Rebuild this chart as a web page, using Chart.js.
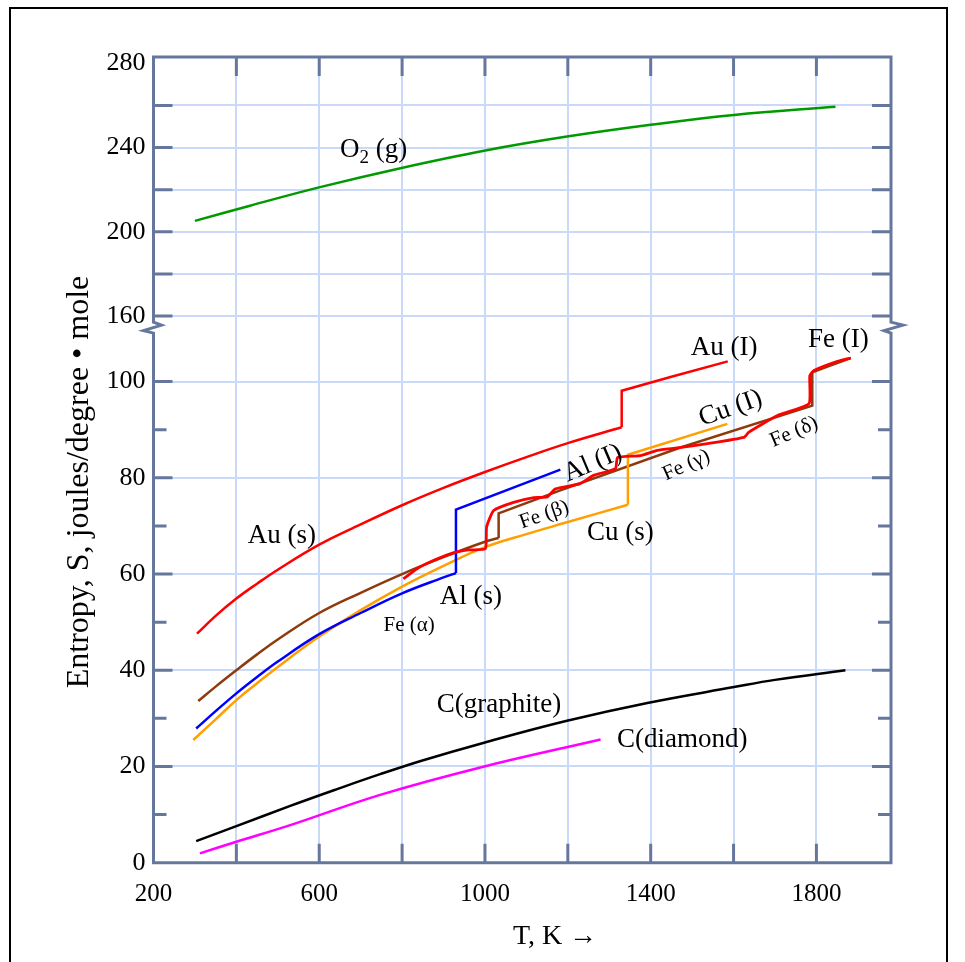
<!DOCTYPE html>
<html>
<head>
<meta charset="utf-8">
<script src="https://cdn.jsdelivr.net/npm/chart.js@4.4.0/dist/chart.umd.min.js"></script>
<style>
  html, body { margin: 0; padding: 0; background: #fff; overflow: hidden; }
  #wrap { position: relative; width: 965px; height: 962px; }
</style>
</head>
<body>
<div id="wrap"><canvas id="myChart"></canvas></div>
<script>
// T in K, S in joules/degree . mole
const o2T = [300, 433, 602, 796, 1001, 1198, 1400, 1601, 1846];
const o2S = [205.2, 212.4, 221.2, 230.2, 238.6, 245.2, 250.8, 255.5, 259.4];

// solid phases
const auSolidT = [305, 350, 400, 450, 500, 600, 700, 800, 900, 1000, 1100, 1200, 1330];
const auSolidS = [47.6, 51.3, 54.9, 58.0, 60.9, 66.1, 70.3, 74.3, 77.9, 81.2, 84.3, 87.2, 90.5];
const alSolidT = [303, 350, 400, 450, 500, 600, 700, 800, 900, 930];
const alSolidS = [27.9, 31.5, 35.2, 38.6, 41.8, 47.5, 51.9, 56.0, 59.3, 60.2];
const cuSolidT = [296, 350, 400, 450, 500, 600, 700, 800, 900, 1000, 1100, 1200, 1345];
const cuSolidS = [25.5, 29.8, 33.8, 37.3, 40.7, 47.0, 52.5, 57.4, 61.7, 65.6, 68.3, 70.8, 74.4];
const feSolidT = [308, 350, 400, 450, 500, 600, 700, 800, 900, 1000, 1033];
const feSolidS = [33.6, 36.6, 40.0, 43.3, 46.4, 51.9, 56.1, 60.0, 63.5, 66.7, 67.5];

// jumps at the transitions and the phase above them
const auMeltT = [1330, 1330, 1450, 1586];
const auMeltS = [90.5, 98.1, 101.0, 104.2];
const alMeltT = [930, 930, 1182];
const alMeltS = [60.2, 73.4, 81.7];
const cuMeltT = [1345, 1345, 1585];
const cuMeltS = [74.4, 84.8, 91.2];
const feHighT = [1033, 1033, 1182, 1472, 1790, 1790, 1830, 1883];
const feHighS = [67.5, 72.6, 77.4, 86.3, 95.0, 101.9, 103.2, 104.9];

// the wavy red iron trace
const feRedT = [803, 836, 870, 916, 960, 1001, 1004, 1021, 1069, 1118, 1150, 1170, 1230, 1262, 1315, 1320, 1375, 1416, 1464, 1537, 1625, 1637, 1705, 1782, 1784, 1794, 1851, 1883];
const feRedS = [59.0, 61.1, 62.6, 64.2, 65.0, 65.3, 69.8, 73.2, 74.9, 75.9, 76.0, 77.7, 78.8, 80.5, 81.9, 84.2, 84.6, 85.7, 86.2, 87.1, 88.4, 89.5, 92.9, 95.4, 101.2, 102.3, 104.2, 104.9];

const graphiteT = [303, 400, 530, 640, 747, 851, 1000, 1198, 1392, 1601, 1700, 1870];
const graphiteS = [4.5, 7.6, 11.8, 15.2, 18.4, 21.3, 25.0, 29.5, 33.2, 36.5, 38.0, 40.0];

const diamondT = [312, 400, 530, 747, 989, 1279];
const diamondS = [1.95, 4.35, 7.8, 14.1, 19.8, 25.6];

const xTickLabels = [200, 600, 1000, 1400, 1800];
const yLowTickLabels = [0, 20, 40, 60, 80, 100];
const yHighTickLabels = [160, 200, 240, 280];

const frameColor = '#66779e';
const gridColor = '#c9d9f7';
const serif = '"Liberation Serif", "Times New Roman", serif';

// text placed next to the curves (data coordinates)
const curveLabels = [
  { text: 'Au (s)', T: 510, S: 68.0, size: 27, angle: 0 },
  { text: 'Au (I)', T: 1577, S: 106.9, size: 27, angle: 0 },
  { text: 'Fe (I)', T: 1853, S: 108.7, size: 27, angle: 0 },
  { text: 'Cu (I)', T: 1593, S: 94.4, size: 27, angle: -19.5 },
  { text: 'Al (I)', T: 1260, S: 83.0, size: 27, angle: -23 },
  { text: 'Fe (β)', T: 1143, S: 72.3, size: 21, angle: -19.5 },
  { text: 'Fe (γ)', T: 1486, S: 82.6, size: 21, angle: -24 },
  { text: 'Fe (δ)', T: 1746, S: 89.5, size: 21, angle: -23 },
  { text: 'Fe (α)', T: 817, S: 49.3, size: 21, angle: 0 },
  { text: 'Al (s)', T: 966, S: 55.2, size: 27, angle: 0 },
  { text: 'Cu (s)', T: 1327, S: 68.5, size: 27, angle: 0 },
  { text: 'C(graphite)', T: 1034, S: 32.7, size: 27, angle: 0 },
  { text: 'C(diamond)', T: 1476, S: 25.5, size: 27, angle: 0 }
];

function pts(T, S) {
  return T.map((t, i) => ({ x: t, y: S[i] }));
}

function line(label, T, S, color, axis, tension, width) {
  return {
    label: label,
    data: pts(T, S),
    borderColor: color,
    borderWidth: width || 2.5,
    pointRadius: 0,
    tension: tension,
    fill: false,
    yAxisID: axis
  };
}

const framePlugin = {
  id: 'framePlugin',
  beforeDraw(chart) {
    const ctx = chart.ctx;
    ctx.save();
    ctx.fillStyle = '#ffffff';
    ctx.fillRect(0, 0, chart.width, chart.height);
    ctx.strokeStyle = '#000000';
    ctx.lineWidth = 2;
    ctx.beginPath();
    ctx.moveTo(10, chart.height);
    ctx.lineTo(10, 8);
    ctx.lineTo(947, 8);
    ctx.lineTo(947, chart.height);
    ctx.stroke();
    ctx.restore();
  },
  afterDatasetsDraw(chart) {
    const { ctx, chartArea: a, scales } = chart;
    const xs = scales.x, lo = scales.yLow, hi = scales.yHigh;
    const brk = lo.top;

    ctx.save();
    ctx.strokeStyle = frameColor;
    ctx.lineWidth = 3;

    // ticks pointing into the plot
    ctx.beginPath();
    xs.ticks.forEach(t => {
      if (t.value <= xs.min || t.value % 200 !== 0) return;
      const px = xs.getPixelForValue(t.value);
      ctx.moveTo(px, a.top); ctx.lineTo(px, a.top + 19);
      ctx.moveTo(px, a.bottom); ctx.lineTo(px, a.bottom - 19);
    });
    lo.ticks.forEach(t => {
      if (t.value <= 0 || t.value > 100) return;
      const len = t.value % 20 === 0 ? 19 : 13;
      const py = lo.getPixelForValue(t.value);
      ctx.moveTo(a.left, py); ctx.lineTo(a.left + len, py);
      ctx.moveTo(a.right, py); ctx.lineTo(a.right - len, py);
    });
    hi.ticks.forEach(t => {
      if (t.value >= 280) return;
      const py = hi.getPixelForValue(t.value);
      ctx.moveTo(a.left, py); ctx.lineTo(a.left + 19, py);
      ctx.moveTo(a.right, py); ctx.lineTo(a.right - 19, py);
    });
    ctx.stroke();

    // frame with the axis break marks
    ctx.beginPath();
    ctx.moveTo(a.left, brk - 6.5);
    ctx.lineTo(a.left, a.top);
    ctx.lineTo(a.right, a.top);
    ctx.lineTo(a.right, brk - 6.5);
    ctx.lineTo(a.right + 12, brk - 3.5);
    ctx.lineTo(a.right - 7, brk + 2);
    ctx.lineTo(a.right, brk + 4.5);
    ctx.lineTo(a.right, a.bottom);
    ctx.lineTo(a.left, a.bottom);
    ctx.lineTo(a.left, brk + 4.5);
    ctx.lineTo(a.left - 10, brk + 2);
    ctx.lineTo(a.left + 8, brk - 3.5);
    ctx.closePath();
    ctx.stroke();

    // curve labels
    ctx.fillStyle = '#000000';
    ctx.textAlign = 'center';
    ctx.textBaseline = 'middle';
    curveLabels.forEach(l => {
      ctx.save();
      ctx.font = l.size + 'px ' + serif;
      ctx.translate(xs.getPixelForValue(l.T), lo.getPixelForValue(l.S));
      ctx.rotate(l.angle * Math.PI / 180);
      ctx.fillText(l.text, 0, 0);
      ctx.restore();
    });

    // O2 (g) with subscript
    const ox = xs.getPixelForValue(650);
    const oy = hi.getPixelForValue(238.9);
    ctx.textAlign = 'left';
    ctx.font = '27px ' + serif;
    ctx.fillText('O', ox, oy);
    let w = ctx.measureText('O').width;
    ctx.font = '19px ' + serif;
    ctx.fillText('2', ox + w, oy + 8);
    w += ctx.measureText('2').width;
    ctx.font = '27px ' + serif;
    ctx.fillText(' (g)', ox + w, oy);

    // axis titles
    ctx.textAlign = 'center';
    ctx.font = '28px ' + serif;
    ctx.fillText('T, K \u2192', 555, 937);
    ctx.save();
    ctx.translate(80, 482);
    ctx.rotate(-Math.PI / 2);
    ctx.font = '32px ' + serif;
    ctx.fillText('Entropy, S, joules/degree \u2022 mole', 0, 0);
    ctx.restore();

    ctx.restore();
  }
};

const tickFont = { family: serif, size: 26 };

new Chart(document.getElementById('myChart').getContext('2d'), {
  type: 'line',
  data: {
    datasets: [
      line('O2 (g)', o2T, o2S, '#009a00', 'yHigh', 0.4),
      line('Fe', feRedT, feRedS, '#ff0000', 'yLow', 0.15, 2.8),
      line('Au (s)', auSolidT, auSolidS, '#ff0000', 'yLow', 0.4),
      line('Au (I)', auMeltT, auMeltS, '#ff0000', 'yLow', 0),
      line('Al (s)', alSolidT, alSolidS, '#0000ff', 'yLow', 0.4),
      line('Al (I)', alMeltT, alMeltS, '#0000ff', 'yLow', 0),
      line('Cu (s)', cuSolidT, cuSolidS, '#ff9f00', 'yLow', 0.4),
      line('Cu (I)', cuMeltT, cuMeltS, '#ff9f00', 'yLow', 0),
      line('Fe (α)', feSolidT, feSolidS, '#8f3a0c', 'yLow', 0.4),
      line('Fe (β-δ, I)', feHighT, feHighS, '#8f3a0c', 'yLow', 0),
      line('C(graphite)', graphiteT, graphiteS, '#000000', 'yLow', 0.4),
      line('C(diamond)', diamondT, diamondS, '#ff00ff', 'yLow', 0.4)
    ]
  },
  options: {
    responsive: true,
    maintainAspectRatio: false,
    animation: false,
    layout: { padding: { left: 0, top: 57, right: 74, bottom: 49.3 } },
    plugins: { legend: { display: false }, tooltip: { enabled: false } },
    scales: {
      x: {
        type: 'linear',
        min: 200,
        max: 1980,
        border: { display: false },
        grid: {
          drawTicks: false,
          lineWidth: 2,
          color: c => (c.tick && c.tick.value > 200 && c.tick.value % 200 === 0 ? gridColor : 'rgba(0,0,0,0)')
        },
        ticks: {
          stepSize: 100,
          maxTicksLimit: 100,
          autoSkip: false,
          maxRotation: 0,
          includeBounds: false,
          padding: 17,
          color: '#000',
          font: { family: serif, size: 25 },
          callback: v => (xTickLabels.includes(v) ? String(v) : '')
        },
        afterFit: s => { s.height = 50; }
      },
      yLow: {
        type: 'linear',
        position: 'left',
        stack: 'y',
        stackWeight: 534.7,
        min: 0,
        max: 111,
        border: { display: false },
        grid: {
          drawTicks: false,
          lineWidth: 2,
          color: c => (c.tick && c.tick.value > 0 && c.tick.value % 20 === 0 ? gridColor : 'rgba(0,0,0,0)')
        },
        ticks: {
          stepSize: 10,
          maxTicksLimit: 100,
          autoSkip: false,
          includeBounds: false,
          padding: 8,
          color: '#000',
          font: tickFont,
          callback: v => (yLowTickLabels.includes(v) ? String(v) : '')
        },
        afterFit: s => { s.width = 153.5; }
      },
      yHigh: {
        type: 'linear',
        position: 'left',
        stack: 'y',
        stackWeight: 272,
        min: 154,
        max: 283,
        border: { display: false },
        grid: {
          drawTicks: false,
          lineWidth: 2,
          color: c => (c.tick && c.tick.value < 280 ? gridColor : 'rgba(0,0,0,0)')
        },
        ticks: {
          stepSize: 20,
          maxTicksLimit: 100,
          autoSkip: false,
          includeBounds: false,
          padding: 8,
          color: '#000',
          font: tickFont,
          callback: v => (yHighTickLabels.includes(v) ? String(v) : '')
        },
        afterFit: s => { s.width = 153.5; }
      }
    }
  },
  plugins: [framePlugin]
});
</script>
</body>
</html>
